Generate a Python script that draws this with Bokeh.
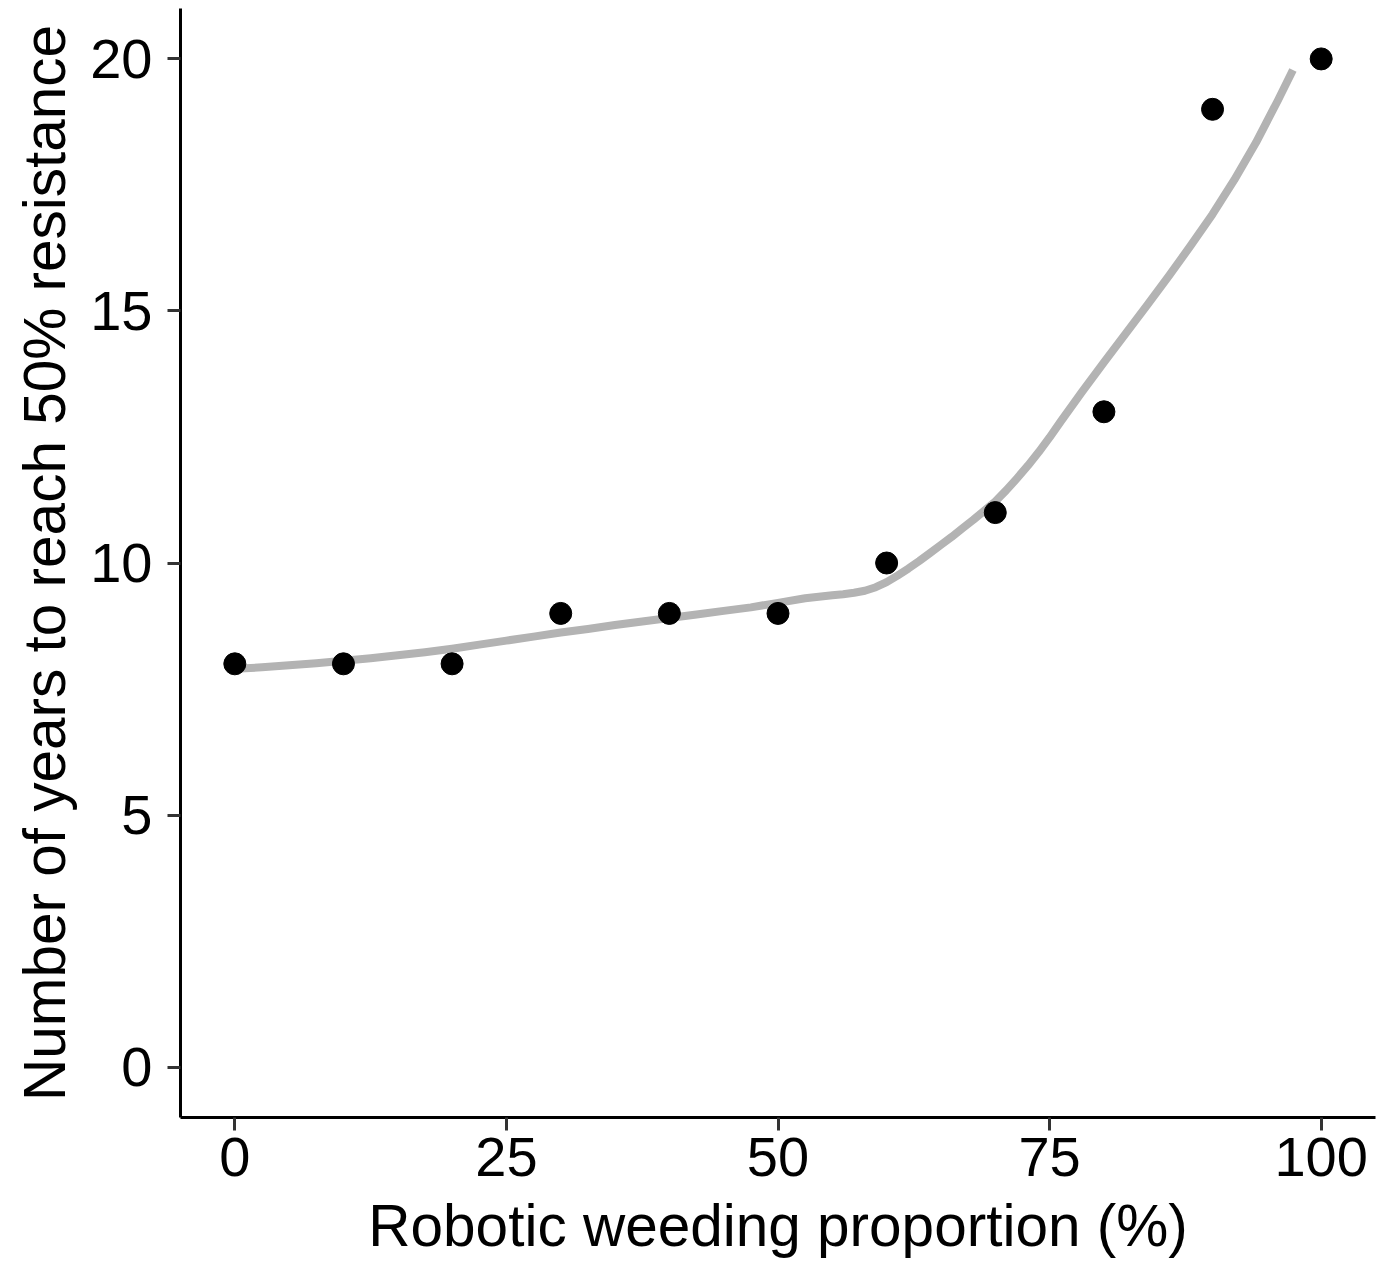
from bokeh.plotting import figure
from bokeh.models import Range1d, FixedTicker
from bokeh.embed import file_html
from bokeh.resources import INLINE

# Data points
proportion = [0, 10, 20, 30, 40, 50, 60, 70, 80, 90, 100]
years = [8, 8, 8, 9, 9, 9, 10, 11, 13, 19, 20]

# Smoothed curve
smooth_x = [0, 2.5, 5, 7.5, 10, 12.5, 15, 17.5, 20, 22.5, 25, 27.5, 30, 32.5,
            35, 37.5, 40, 42.5, 45, 47.5, 50, 52.5, 55, 56, 57, 58, 59, 60,
            61, 62, 63, 64, 65, 66, 67, 68, 69, 70, 71, 72, 73, 74, 75, 76,
            78, 80, 82, 84, 86, 88, 90, 92, 94, 96, 97.4]
smooth_y = [7.90, 7.93, 7.97, 8.01, 8.06, 8.11, 8.17, 8.23, 8.30, 8.38, 8.46,
            8.54, 8.62, 8.69, 8.77, 8.84, 8.91, 8.98, 9.05, 9.12, 9.21, 9.30,
            9.36, 9.38, 9.41, 9.45, 9.52, 9.62, 9.75, 9.89, 10.04, 10.20,
            10.36, 10.52, 10.69, 10.86, 11.04, 11.22, 11.44, 11.68, 11.93,
            12.20, 12.49, 12.80, 13.40, 13.98, 14.55, 15.12, 15.70, 16.30,
            16.92, 17.60, 18.34, 19.17, 19.78]

x_ticks = [0, 25, 50, 75, 100]
y_ticks = [0, 5, 10, 15, 20]

FONT = "Liberation Sans"

p = figure(width=1383, height=1260, output_backend="svg", toolbar_location=None,
           x_range=Range1d(-5, 105), y_range=Range1d(-1, 21),
           min_border_top=8, min_border_right=8, min_border_left=180,
           min_border_bottom=10)

p.line(smooth_x, smooth_y, line_color="#B3B3B3", line_width=8,
       line_join="round", line_cap="butt")
p.scatter(proportion, years, size=22, fill_color="black", line_color="black")

p.grid.visible = False
p.outline_line_color = None
p.background_fill_color = "white"

for ax in (p.xaxis, p.yaxis):
    ax.axis_line_width = 3
    ax.axis_line_color = "black"
    ax.major_tick_line_color = "#333333"
    ax.major_tick_line_width = 3
    ax.major_tick_out = 13
    ax.major_tick_in = 0
    ax.minor_tick_line_color = None
    ax.major_label_text_font = FONT
    ax.major_label_text_font_size = "56px"
    ax.major_label_text_color = "black"
    ax.axis_label_text_font = FONT
    ax.axis_label_text_font_size = "58.5px"
    ax.axis_label_text_font_style = "normal"
    ax.axis_label_text_color = "black"

p.xaxis.ticker = FixedTicker(ticks=x_ticks)
p.yaxis.ticker = FixedTicker(ticks=y_ticks)
p.xaxis.major_label_standoff = 7
p.yaxis.major_label_standoff = 15
p.xaxis.axis_label = "Robotic weeding proportion (%)"
p.yaxis.axis_label = "Number of years to reach 50% resistance"
p.xaxis.axis_label_standoff = 14
p.yaxis.axis_label_standoff = 10

open("out.html", "w").write(file_html(p, INLINE))
